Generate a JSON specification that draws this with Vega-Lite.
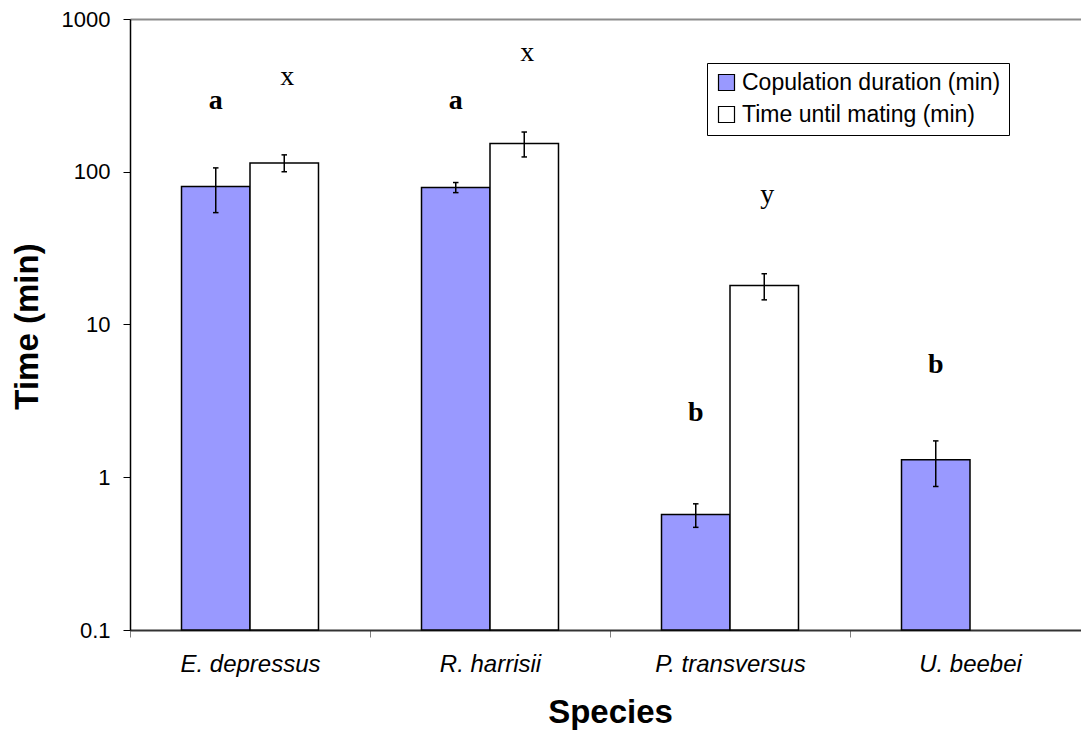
{
  "$schema": "https://vega.github.io/schema/vega-lite/v6.json",
  "width": 951,
  "height": 611,
  "autosize": {"type": "none"},
  "padding": {"left": 130, "top": 19, "right": 0, "bottom": 100},
  "background": "white",
  "config": {"view": {"stroke": null}, "font": "Liberation Sans"},
  "data": {
    "values": [
      {"species": "E. depressus", "measure": "Copulation duration (min)", "value": 80, "lo": 54, "hi": 106, "letter": "a", "ly": 255.6},
      {"species": "E. depressus", "measure": "Time until mating (min)", "value": 114, "lo": 100, "hi": 129, "letter": "x", "ly": 370},
      {"species": "R. harrisii", "measure": "Copulation duration (min)", "value": 79, "lo": 73, "hi": 85, "letter": "a", "ly": 255.6},
      {"species": "R. harrisii", "measure": "Time until mating (min)", "value": 153, "lo": 125, "hi": 182, "letter": "x", "ly": 533},
      {"species": "P. transversus", "measure": "Copulation duration (min)", "value": 0.57, "lo": 0.47, "hi": 0.67, "letter": "b", "ly": 2.35},
      {"species": "P. transversus", "measure": "Time until mating (min)", "value": 18, "lo": 14.5, "hi": 21.5, "letter": "y", "ly": 62.4},
      {"species": "U. beebei", "measure": "Copulation duration (min)", "value": 1.3, "lo": 0.87, "hi": 1.73, "letter": "b", "ly": 4.81}
    ]
  },
  "encoding": {
    "x": {
      "field": "species",
      "type": "nominal",
      "sort": ["E. depressus", "R. harrisii", "P. transversus", "U. beebei"],
      "scale": {"range": [0, 960], "paddingInner": 0, "paddingOuter": 0},
      "axis": {
        "title": "Species",
        "titleFont": "Liberation Sans",
        "titleFontSize": 33,
        "titleFontWeight": "bold",
        "titleColor": "black",
        "titleBaseline": "alphabetic",
        "titleY": 92,
        "labelAngle": 0,
        "labelFont": "Liberation Sans",
        "labelFontStyle": "italic",
        "labelFontSize": 24,
        "labelColor": "black",
        "labelBaseline": "alphabetic",
        "labelPadding": 34,
        "tickBand": "extent",
        "tickSize": 7,
        "tickColor": "#808080",
        "domainColor": "#333333",
        "domainWidth": 2
      }
    },
    "xOffset": {
      "field": "measure",
      "type": "nominal",
      "sort": ["Copulation duration (min)", "Time until mating (min)"],
      "scale": {"paddingInner": 0, "paddingOuter": 0.752}
    }
  },
  "layer": [
    {
      "mark": {"type": "bar", "stroke": "black", "strokeWidth": 1.5},
      "encoding": {
        "y": {
          "field": "value",
          "type": "quantitative",
          "scale": {"type": "log", "domain": [0.1, 1000], "nice": false},
          "axis": {
            "title": "Time (min)",
            "titleFont": "Liberation Sans",
            "titleFontSize": 33,
            "titleFontWeight": "bold",
            "titleColor": "black",
            "titleAngle": -90,
            "titleAlign": "center",
            "titleBaseline": "alphabetic",
            "titleX": -93,
            "titleY": 307,
            "values": [0.1, 1, 10, 100, 1000],
            "format": "~g",
            "labelFont": "Liberation Sans",
            "labelFontSize": 22,
            "labelColor": "black",
            "labelPadding": 13,
            "tickSize": 7,
            "tickColor": "black",
            "domainColor": "black",
            "domainWidth": 1.5,
            "grid": true,
            "gridColor": "#8c8c8c",
            "gridWidth": 2,
            "gridOpacity": {"condition": {"test": "datum.value >= 1000", "value": 1}, "value": 0}
          }
        },
        "y2": {"datum": 0.1},
        "fill": {
          "field": "measure",
          "type": "nominal",
          "scale": {"domain": ["Copulation duration (min)", "Time until mating (min)"], "range": ["#9999ff", "#ffffff"]},
          "legend": {
            "title": null,
            "orient": "none",
            "legendX": 577,
            "legendY": 44,
            "strokeColor": "black",
            "fillColor": "white",
            "padding": 8,
            "rowPadding": 8,
            "labelFont": "Liberation Sans",
            "labelFontSize": 23,
            "labelColor": "black",
            "labelLimit": 0,
            "labelOffset": 4,
            "symbolType": "square",
            "symbolSize": 256,
            "symbolStrokeColor": "black",
            "symbolStrokeWidth": 1.2,
            "symbolOpacity": 1
          }
        }
      }
    },
    {
      "mark": {"type": "rule", "color": "black", "strokeWidth": 1.5},
      "encoding": {"y": {"field": "lo", "type": "quantitative"}, "y2": {"field": "hi"}}
    },
    {
      "mark": {"type": "point", "shape": "M -0.5 0 L 0.5 0", "size": 121, "filled": false, "stroke": "black", "strokeWidth": 1.5, "opacity": 1},
      "encoding": {"y": {"field": "lo", "type": "quantitative"}}
    },
    {
      "mark": {"type": "point", "shape": "M -0.5 0 L 0.5 0", "size": 121, "filled": false, "stroke": "black", "strokeWidth": 1.5, "opacity": 1},
      "encoding": {"y": {"field": "hi", "type": "quantitative"}}
    },
    {
      "transform": [{"filter": "datum.measure === 'Copulation duration (min)'"}],
      "mark": {"type": "text", "font": "Liberation Serif", "fontSize": 28, "fontWeight": "bold", "baseline": "alphabetic", "color": "black"},
      "encoding": {"y": {"field": "ly", "type": "quantitative"}, "text": {"field": "letter"}}
    },
    {
      "transform": [{"filter": "datum.measure === 'Time until mating (min)'"}],
      "mark": {"type": "text", "font": "Liberation Serif", "fontSize": 28, "baseline": "alphabetic", "color": "black", "dx": 3},
      "encoding": {"y": {"field": "ly", "type": "quantitative"}, "text": {"field": "letter"}}
    }
  ]
}
